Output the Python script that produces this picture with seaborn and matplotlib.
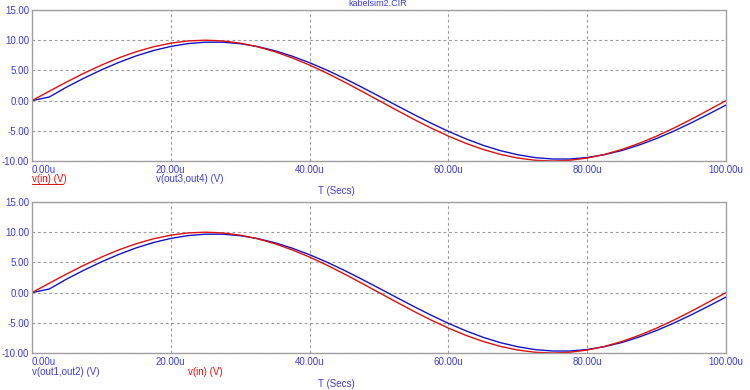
import numpy as np
import pandas as pd
import matplotlib
matplotlib.use("Agg")
import matplotlib.pyplot as plt
import seaborn as sns

# time in microseconds
t_us = [0, 2.5, 5, 7.5, 10, 12.5, 15, 17.5, 20, 22.5, 25, 27.5, 30, 32.5, 35, 37.5,
        40, 42.5, 45, 47.5, 50, 52.5, 55, 57.5, 60, 62.5, 65, 67.5, 70, 72.5, 75,
        77.5, 80, 82.5, 85, 87.5, 90, 92.5, 95, 97.5, 100]

v_in = [0.00, 1.56, 3.09, 4.54, 5.88, 7.07, 8.09, 8.91, 9.51, 9.88, 10.00, 9.88,
        9.51, 8.91, 8.09, 7.07, 5.88, 4.54, 3.09, 1.56, 0.00, -1.56, -3.09, -4.54,
        -5.88, -7.07, -8.09, -8.91, -9.51, -9.88, -10.00, -9.88, -9.51, -8.91,
        -8.09, -7.07, -5.88, -4.54, -3.09, -1.56, 0.00]

v_out = [0.00, 0.60, 2.25, 3.72, 5.09, 6.32, 7.40, 8.29, 8.97, 9.44, 9.67, 9.67,
         9.42, 8.95, 8.26, 7.35, 6.27, 5.04, 3.68, 2.23, 0.73, -0.79, -2.29, -3.74,
         -5.09, -6.32, -7.40, -8.29, -8.97, -9.44, -9.67, -9.67, -9.42, -8.95,
         -8.26, -7.35, -6.27, -5.04, -3.68, -2.23, -0.73]

x_ticks = [0, 20, 40, 60, 80, 100]
x_tick_labels = ["0.00u", "20.00u", "40.00u", "60.00u", "80.00u", "100.00u"]
y_ticks = [-10, -5, 0, 5, 10, 15]
y_tick_labels = ["-10.00", "-5.00", "0.00", "5.00", "10.00", "15.00"]

title = "kabelsim2.CIR"
x_label = "T (Secs)"
top_labels = ["v(in) (V)", "v(out3,out4) (V)"]
bottom_labels = ["v(out1,out2) (V)", "v(in) (V)"]

sns.set_theme(style="white")
plt.rcParams['font.family'] = ['Liberation Sans', 'DejaVu Sans']

RED = "#e01010"
BLUE = "#1414c8"
TXT = "#4040d0"
GRID = "#9a9a9a"
FRAME = "#a0a0a0"

df = pd.DataFrame({"t": t_us * 2,
                   "v": v_in + v_out,
                   "sig": ["in"] * len(t_us) + ["out"] * len(t_us)})

fig = plt.figure(figsize=(7.5, 3.9), dpi=100)
ax1 = fig.add_axes([32 / 750, 1 - 161 / 390, 694 / 750, 151 / 390])
ax2 = fig.add_axes([32 / 750, 1 - 353 / 390, 694 / 750, 151 / 390])

for ax in (ax1, ax2):
    sns.lineplot(data=df[df.sig == "out"], x="t", y="v", color=BLUE, lw=1.0, ax=ax)
    sns.lineplot(data=df[df.sig == "in"], x="t", y="v", color=RED, lw=1.0, ax=ax)
    ax.set_xlim(0, 100)
    ax.set_ylim(-10, 15)
    ax.set_xticks(x_ticks)
    ax.set_xticklabels(x_tick_labels)
    ax.set_yticks(y_ticks)
    ax.set_yticklabels(y_tick_labels)
    ax.set_xlabel("")
    ax.set_ylabel("")
    ax.tick_params(axis="both", length=0, labelsize=7, colors=TXT, pad=2)
    ax.tick_params(axis="x", pad=3)
    labs = ax.get_xticklabels()
    labs[0].set_horizontalalignment("left")
    ax.grid(True, color=GRID, linestyle=(0, (2.5, 2.5)), linewidth=0.8)
    for s in ax.spines.values():
        s.set_color(FRAME)
        s.set_linewidth(1.0)
    ax.set_facecolor("white")

fig.text(378 / 750, 1 - 4 / 390, title, ha="center", va="center", fontsize=6.5, color=TXT)

# top annotations
fig.text(32 / 750, 1 - 179 / 390, top_labels[0], ha="left", va="center",
         fontsize=7, color=RED)
fig.text(223 / 750, 1 - 179 / 390, top_labels[1], ha="right", va="center",
         fontsize=7, color=TXT)
fig.text(336 / 750, 1 - 191 / 390, x_label, ha="center", va="center",
         fontsize=7, color=TXT)
# underline for v(in) label in top panel
fig.add_artist(plt.Line2D([32 / 750, 63 / 750], [1 - 184 / 390, 1 - 184 / 390],
                          color=RED, lw=0.7, transform=fig.transFigure))

# bottom annotations
fig.text(32 / 750, 1 - 372 / 390, bottom_labels[0], ha="left", va="center",
         fontsize=7, color=TXT)
fig.text(223 / 750, 1 - 372 / 390, bottom_labels[1], ha="right", va="center",
         fontsize=7, color=RED)
fig.text(336 / 750, 1 - 384 / 390, x_label, ha="center", va="center",
         fontsize=7, color=TXT)

fig.savefig("out.png", dpi=100, facecolor="white")
